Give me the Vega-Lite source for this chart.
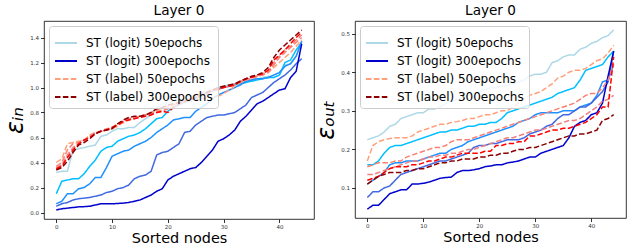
{
"$schema":"https://vega.github.io/schema/vega-lite/v6.json",
"padding":{"left":3,"top":4,"right":5,"bottom":5},
"spacing":41,
"bounds":"flush",
"datasets":{
"din":[
{"s":"g50","x":0,"y":0.32},{"s":"g50","x":1,"y":0.33},{"s":"g50","x":2,"y":0.33},{"s":"g50","x":3,"y":0.50},{"s":"g50","x":4,"y":0.51},{"s":"g50","x":5,"y":0.52},{"s":"g50","x":6,"y":0.53},{"s":"g50","x":7,"y":0.54},{"s":"g50","x":8,"y":0.61},{"s":"g50","x":9,"y":0.62},{"s":"g50","x":10,"y":0.65},{"s":"g50","x":11,"y":0.67},{"s":"g50","x":12,"y":0.67},{"s":"g50","x":13,"y":0.68},{"s":"g50","x":14,"y":0.68},{"s":"g50","x":15,"y":0.72},{"s":"g50","x":16,"y":0.75},{"s":"g50","x":17,"y":0.78},{"s":"g50","x":18,"y":0.84},{"s":"g50","x":19,"y":0.87},{"s":"g50","x":20,"y":0.88},{"s":"g50","x":21,"y":0.89},{"s":"g50","x":22,"y":0.90},{"s":"g50","x":23,"y":0.91},{"s":"g50","x":24,"y":0.93},{"s":"g50","x":25,"y":0.94},{"s":"g50","x":26,"y":0.96},{"s":"g50","x":27,"y":0.97},{"s":"g50","x":28,"y":0.98},{"s":"g50","x":29,"y":1.00},{"s":"g50","x":30,"y":1.01},{"s":"g50","x":31,"y":1.02},{"s":"g50","x":32,"y":1.03},{"s":"g50","x":33,"y":1.04},{"s":"g50","x":34,"y":1.05},{"s":"g50","x":35,"y":1.06},{"s":"g50","x":36,"y":1.07},{"s":"g50","x":37,"y":1.08},{"s":"g50","x":38,"y":1.09},{"s":"g50","x":39,"y":1.08},{"s":"g50","x":40,"y":1.10},{"s":"g50","x":41,"y":1.18},{"s":"g50","x":42,"y":1.19},{"s":"g50","x":43,"y":1.25},{"s":"g50","x":44,"y":1.37},
{"s":"g100","x":0,"y":0.15},{"s":"g100","x":1,"y":0.25},{"s":"g100","x":2,"y":0.26},{"s":"g100","x":3,"y":0.27},{"s":"g100","x":4,"y":0.27},{"s":"g100","x":5,"y":0.31},{"s":"g100","x":6,"y":0.37},{"s":"g100","x":7,"y":0.42},{"s":"g100","x":8,"y":0.49},{"s":"g100","x":9,"y":0.52},{"s":"g100","x":10,"y":0.53},{"s":"g100","x":11,"y":0.57},{"s":"g100","x":12,"y":0.59},{"s":"g100","x":13,"y":0.61},{"s":"g100","x":14,"y":0.62},{"s":"g100","x":15,"y":0.64},{"s":"g100","x":16,"y":0.67},{"s":"g100","x":17,"y":0.71},{"s":"g100","x":18,"y":0.75},{"s":"g100","x":19,"y":0.76},{"s":"g100","x":20,"y":0.81},{"s":"g100","x":21,"y":0.84},{"s":"g100","x":22,"y":0.86},{"s":"g100","x":23,"y":0.88},{"s":"g100","x":24,"y":0.90},{"s":"g100","x":25,"y":0.91},{"s":"g100","x":26,"y":0.93},{"s":"g100","x":27,"y":0.95},{"s":"g100","x":28,"y":0.97},{"s":"g100","x":29,"y":0.99},{"s":"g100","x":30,"y":1.00},{"s":"g100","x":31,"y":1.01},{"s":"g100","x":32,"y":1.02},{"s":"g100","x":33,"y":1.03},{"s":"g100","x":34,"y":1.04},{"s":"g100","x":35,"y":1.05},{"s":"g100","x":36,"y":1.06},{"s":"g100","x":37,"y":1.07},{"s":"g100","x":38,"y":1.08},{"s":"g100","x":39,"y":1.08},{"s":"g100","x":40,"y":1.10},{"s":"g100","x":41,"y":1.20},{"s":"g100","x":42,"y":1.22},{"s":"g100","x":43,"y":1.30},{"s":"g100","x":44,"y":1.36},
{"s":"g150","x":0,"y":0.07},{"s":"g150","x":1,"y":0.09},{"s":"g150","x":2,"y":0.15},{"s":"g150","x":3,"y":0.15},{"s":"g150","x":4,"y":0.19},{"s":"g150","x":5,"y":0.20},{"s":"g150","x":6,"y":0.23},{"s":"g150","x":7,"y":0.28},{"s":"g150","x":8,"y":0.28},{"s":"g150","x":9,"y":0.36},{"s":"g150","x":10,"y":0.45},{"s":"g150","x":11,"y":0.47},{"s":"g150","x":12,"y":0.49},{"s":"g150","x":13,"y":0.50},{"s":"g150","x":14,"y":0.53},{"s":"g150","x":15,"y":0.55},{"s":"g150","x":16,"y":0.57},{"s":"g150","x":17,"y":0.60},{"s":"g150","x":18,"y":0.64},{"s":"g150","x":19,"y":0.67},{"s":"g150","x":20,"y":0.70},{"s":"g150","x":21,"y":0.74},{"s":"g150","x":22,"y":0.75},{"s":"g150","x":23,"y":0.76},{"s":"g150","x":24,"y":0.76},{"s":"g150","x":25,"y":0.81},{"s":"g150","x":26,"y":0.84},{"s":"g150","x":27,"y":0.87},{"s":"g150","x":28,"y":0.91},{"s":"g150","x":29,"y":0.94},{"s":"g150","x":30,"y":0.96},{"s":"g150","x":31,"y":0.98},{"s":"g150","x":32,"y":1.00},{"s":"g150","x":33,"y":1.02},{"s":"g150","x":34,"y":1.05},{"s":"g150","x":35,"y":1.06},{"s":"g150","x":36,"y":1.07},{"s":"g150","x":37,"y":1.07},{"s":"g150","x":38,"y":1.08},{"s":"g150","x":39,"y":1.10},{"s":"g150","x":40,"y":1.12},{"s":"g150","x":41,"y":1.17},{"s":"g150","x":42,"y":1.19},{"s":"g150","x":43,"y":1.25},{"s":"g150","x":44,"y":1.37},
{"s":"g200","x":0,"y":0.05},{"s":"g200","x":1,"y":0.07},{"s":"g200","x":2,"y":0.08},{"s":"g200","x":3,"y":0.10},{"s":"g200","x":4,"y":0.11},{"s":"g200","x":5,"y":0.115},{"s":"g200","x":6,"y":0.12},{"s":"g200","x":7,"y":0.13},{"s":"g200","x":8,"y":0.14},{"s":"g200","x":9,"y":0.16},{"s":"g200","x":10,"y":0.17},{"s":"g200","x":11,"y":0.19},{"s":"g200","x":12,"y":0.20},{"s":"g200","x":13,"y":0.22},{"s":"g200","x":14,"y":0.27},{"s":"g200","x":15,"y":0.29},{"s":"g200","x":16,"y":0.30},{"s":"g200","x":17,"y":0.33},{"s":"g200","x":18,"y":0.46},{"s":"g200","x":19,"y":0.48},{"s":"g200","x":20,"y":0.49},{"s":"g200","x":21,"y":0.52},{"s":"g200","x":22,"y":0.55},{"s":"g200","x":23,"y":0.64},{"s":"g200","x":24,"y":0.65},{"s":"g200","x":25,"y":0.70},{"s":"g200","x":26,"y":0.73},{"s":"g200","x":27,"y":0.76},{"s":"g200","x":28,"y":0.77},{"s":"g200","x":29,"y":0.78},{"s":"g200","x":30,"y":0.78},{"s":"g200","x":31,"y":0.79},{"s":"g200","x":32,"y":0.80},{"s":"g200","x":33,"y":0.83},{"s":"g200","x":34,"y":0.86},{"s":"g200","x":35,"y":0.92},{"s":"g200","x":36,"y":0.94},{"s":"g200","x":37,"y":0.96},{"s":"g200","x":38,"y":1.00},{"s":"g200","x":39,"y":1.04},{"s":"g200","x":40,"y":1.07},{"s":"g200","x":41,"y":1.10},{"s":"g200","x":42,"y":1.14},{"s":"g200","x":43,"y":1.19},{"s":"g200","x":44,"y":1.23},
{"s":"g300","x":0,"y":0.02},{"s":"g300","x":1,"y":0.03},{"s":"g300","x":2,"y":0.035},{"s":"g300","x":3,"y":0.04},{"s":"g300","x":4,"y":0.045},{"s":"g300","x":5,"y":0.047},{"s":"g300","x":6,"y":0.05},{"s":"g300","x":7,"y":0.06},{"s":"g300","x":8,"y":0.07},{"s":"g300","x":9,"y":0.07},{"s":"g300","x":10,"y":0.07},{"s":"g300","x":11,"y":0.072},{"s":"g300","x":12,"y":0.075},{"s":"g300","x":13,"y":0.08},{"s":"g300","x":14,"y":0.09},{"s":"g300","x":15,"y":0.10},{"s":"g300","x":16,"y":0.12},{"s":"g300","x":17,"y":0.14},{"s":"g300","x":18,"y":0.17},{"s":"g300","x":19,"y":0.19},{"s":"g300","x":20,"y":0.26},{"s":"g300","x":21,"y":0.29},{"s":"g300","x":22,"y":0.31},{"s":"g300","x":23,"y":0.33},{"s":"g300","x":24,"y":0.35},{"s":"g300","x":25,"y":0.36},{"s":"g300","x":26,"y":0.40},{"s":"g300","x":27,"y":0.45},{"s":"g300","x":28,"y":0.50},{"s":"g300","x":29,"y":0.57},{"s":"g300","x":30,"y":0.59},{"s":"g300","x":31,"y":0.62},{"s":"g300","x":32,"y":0.66},{"s":"g300","x":33,"y":0.73},{"s":"g300","x":34,"y":0.77},{"s":"g300","x":35,"y":0.82},{"s":"g300","x":36,"y":0.87},{"s":"g300","x":37,"y":0.89},{"s":"g300","x":38,"y":0.92},{"s":"g300","x":39,"y":0.95},{"s":"g300","x":40,"y":0.98},{"s":"g300","x":41,"y":0.99},{"s":"g300","x":42,"y":1.08},{"s":"g300","x":43,"y":1.13},{"s":"g300","x":44,"y":1.35},
{"s":"b50","x":0,"y":0.40},{"s":"b50","x":1,"y":0.43},{"s":"b50","x":2,"y":0.55},{"s":"b50","x":3,"y":0.56},{"s":"b50","x":4,"y":0.57},{"s":"b50","x":5,"y":0.58},{"s":"b50","x":6,"y":0.62},{"s":"b50","x":7,"y":0.64},{"s":"b50","x":8,"y":0.65},{"s":"b50","x":9,"y":0.66},{"s":"b50","x":10,"y":0.67},{"s":"b50","x":11,"y":0.69},{"s":"b50","x":12,"y":0.72},{"s":"b50","x":13,"y":0.74},{"s":"b50","x":14,"y":0.76},{"s":"b50","x":15,"y":0.77},{"s":"b50","x":16,"y":0.78},{"s":"b50","x":17,"y":0.79},{"s":"b50","x":18,"y":0.81},{"s":"b50","x":19,"y":0.82},{"s":"b50","x":20,"y":0.84},{"s":"b50","x":21,"y":0.85},{"s":"b50","x":22,"y":0.87},{"s":"b50","x":23,"y":0.88},{"s":"b50","x":24,"y":0.89},{"s":"b50","x":25,"y":0.90},{"s":"b50","x":26,"y":0.91},{"s":"b50","x":27,"y":0.92},{"s":"b50","x":28,"y":0.92},{"s":"b50","x":29,"y":0.93},{"s":"b50","x":30,"y":0.95},{"s":"b50","x":31,"y":0.98},{"s":"b50","x":32,"y":1.01},{"s":"b50","x":33,"y":1.04},{"s":"b50","x":34,"y":1.06},{"s":"b50","x":35,"y":1.08},{"s":"b50","x":36,"y":1.09},{"s":"b50","x":37,"y":1.10},{"s":"b50","x":38,"y":1.12},{"s":"b50","x":39,"y":1.16},{"s":"b50","x":40,"y":1.20},{"s":"b50","x":41,"y":1.24},{"s":"b50","x":42,"y":1.28},{"s":"b50","x":43,"y":1.33},{"s":"b50","x":44,"y":1.38},
{"s":"b100","x":0,"y":0.37},{"s":"b100","x":1,"y":0.40},{"s":"b100","x":2,"y":0.50},{"s":"b100","x":3,"y":0.55},{"s":"b100","x":4,"y":0.56},{"s":"b100","x":5,"y":0.58},{"s":"b100","x":6,"y":0.61},{"s":"b100","x":7,"y":0.63},{"s":"b100","x":8,"y":0.65},{"s":"b100","x":9,"y":0.66},{"s":"b100","x":10,"y":0.68},{"s":"b100","x":11,"y":0.70},{"s":"b100","x":12,"y":0.72},{"s":"b100","x":13,"y":0.75},{"s":"b100","x":14,"y":0.76},{"s":"b100","x":15,"y":0.77},{"s":"b100","x":16,"y":0.78},{"s":"b100","x":17,"y":0.80},{"s":"b100","x":18,"y":0.82},{"s":"b100","x":19,"y":0.84},{"s":"b100","x":20,"y":0.85},{"s":"b100","x":21,"y":0.86},{"s":"b100","x":22,"y":0.88},{"s":"b100","x":23,"y":0.89},{"s":"b100","x":24,"y":0.90},{"s":"b100","x":25,"y":0.92},{"s":"b100","x":26,"y":0.94},{"s":"b100","x":27,"y":0.95},{"s":"b100","x":28,"y":0.97},{"s":"b100","x":29,"y":0.98},{"s":"b100","x":30,"y":1.00},{"s":"b100","x":31,"y":1.01},{"s":"b100","x":32,"y":1.02},{"s":"b100","x":33,"y":1.04},{"s":"b100","x":34,"y":1.06},{"s":"b100","x":35,"y":1.07},{"s":"b100","x":36,"y":1.09},{"s":"b100","x":37,"y":1.10},{"s":"b100","x":38,"y":1.12},{"s":"b100","x":39,"y":1.18},{"s":"b100","x":40,"y":1.24},{"s":"b100","x":41,"y":1.28},{"s":"b100","x":42,"y":1.32},{"s":"b100","x":43,"y":1.36},{"s":"b100","x":44,"y":1.40},
{"s":"b150","x":0,"y":0.36},{"s":"b150","x":1,"y":0.38},{"s":"b150","x":2,"y":0.46},{"s":"b150","x":3,"y":0.52},{"s":"b150","x":4,"y":0.55},{"s":"b150","x":5,"y":0.57},{"s":"b150","x":6,"y":0.61},{"s":"b150","x":7,"y":0.64},{"s":"b150","x":8,"y":0.65},{"s":"b150","x":9,"y":0.67},{"s":"b150","x":10,"y":0.68},{"s":"b150","x":11,"y":0.71},{"s":"b150","x":12,"y":0.73},{"s":"b150","x":13,"y":0.75},{"s":"b150","x":14,"y":0.76},{"s":"b150","x":15,"y":0.77},{"s":"b150","x":16,"y":0.78},{"s":"b150","x":17,"y":0.79},{"s":"b150","x":18,"y":0.80},{"s":"b150","x":19,"y":0.81},{"s":"b150","x":20,"y":0.83},{"s":"b150","x":21,"y":0.86},{"s":"b150","x":22,"y":0.88},{"s":"b150","x":23,"y":0.89},{"s":"b150","x":24,"y":0.91},{"s":"b150","x":25,"y":0.93},{"s":"b150","x":26,"y":0.95},{"s":"b150","x":27,"y":0.96},{"s":"b150","x":28,"y":0.97},{"s":"b150","x":29,"y":0.99},{"s":"b150","x":30,"y":1.00},{"s":"b150","x":31,"y":1.01},{"s":"b150","x":32,"y":1.03},{"s":"b150","x":33,"y":1.05},{"s":"b150","x":34,"y":1.06},{"s":"b150","x":35,"y":1.08},{"s":"b150","x":36,"y":1.09},{"s":"b150","x":37,"y":1.11},{"s":"b150","x":38,"y":1.13},{"s":"b150","x":39,"y":1.20},{"s":"b150","x":40,"y":1.25},{"s":"b150","x":41,"y":1.30},{"s":"b150","x":42,"y":1.33},{"s":"b150","x":43,"y":1.38},{"s":"b150","x":44,"y":1.42},
{"s":"b200","x":0,"y":0.35},{"s":"b200","x":1,"y":0.37},{"s":"b200","x":2,"y":0.44},{"s":"b200","x":3,"y":0.50},{"s":"b200","x":4,"y":0.55},{"s":"b200","x":5,"y":0.58},{"s":"b200","x":6,"y":0.60},{"s":"b200","x":7,"y":0.63},{"s":"b200","x":8,"y":0.65},{"s":"b200","x":9,"y":0.66},{"s":"b200","x":10,"y":0.68},{"s":"b200","x":11,"y":0.70},{"s":"b200","x":12,"y":0.73},{"s":"b200","x":13,"y":0.74},{"s":"b200","x":14,"y":0.75},{"s":"b200","x":15,"y":0.76},{"s":"b200","x":16,"y":0.77},{"s":"b200","x":17,"y":0.78},{"s":"b200","x":18,"y":0.80},{"s":"b200","x":19,"y":0.81},{"s":"b200","x":20,"y":0.80},{"s":"b200","x":21,"y":0.84},{"s":"b200","x":22,"y":0.87},{"s":"b200","x":23,"y":0.89},{"s":"b200","x":24,"y":0.91},{"s":"b200","x":25,"y":0.92},{"s":"b200","x":26,"y":0.94},{"s":"b200","x":27,"y":0.96},{"s":"b200","x":28,"y":0.98},{"s":"b200","x":29,"y":0.99},{"s":"b200","x":30,"y":1.00},{"s":"b200","x":31,"y":1.01},{"s":"b200","x":32,"y":1.02},{"s":"b200","x":33,"y":1.05},{"s":"b200","x":34,"y":1.07},{"s":"b200","x":35,"y":1.08},{"s":"b200","x":36,"y":1.10},{"s":"b200","x":37,"y":1.11},{"s":"b200","x":38,"y":1.14},{"s":"b200","x":39,"y":1.22},{"s":"b200","x":40,"y":1.26},{"s":"b200","x":41,"y":1.30},{"s":"b200","x":42,"y":1.35},{"s":"b200","x":43,"y":1.40},{"s":"b200","x":44,"y":1.44},
{"s":"b300","x":0,"y":0.34},{"s":"b300","x":1,"y":0.36},{"s":"b300","x":2,"y":0.41},{"s":"b300","x":3,"y":0.48},{"s":"b300","x":4,"y":0.54},{"s":"b300","x":5,"y":0.56},{"s":"b300","x":6,"y":0.59},{"s":"b300","x":7,"y":0.63},{"s":"b300","x":8,"y":0.65},{"s":"b300","x":9,"y":0.66},{"s":"b300","x":10,"y":0.67},{"s":"b300","x":11,"y":0.71},{"s":"b300","x":12,"y":0.74},{"s":"b300","x":13,"y":0.76},{"s":"b300","x":14,"y":0.77},{"s":"b300","x":15,"y":0.77},{"s":"b300","x":16,"y":0.78},{"s":"b300","x":17,"y":0.80},{"s":"b300","x":18,"y":0.83},{"s":"b300","x":19,"y":0.84},{"s":"b300","x":20,"y":0.86},{"s":"b300","x":21,"y":0.87},{"s":"b300","x":22,"y":0.88},{"s":"b300","x":23,"y":0.89},{"s":"b300","x":24,"y":0.90},{"s":"b300","x":25,"y":0.92},{"s":"b300","x":26,"y":0.94},{"s":"b300","x":27,"y":0.96},{"s":"b300","x":28,"y":0.98},{"s":"b300","x":29,"y":1.00},{"s":"b300","x":30,"y":1.01},{"s":"b300","x":31,"y":1.02},{"s":"b300","x":32,"y":1.03},{"s":"b300","x":33,"y":1.05},{"s":"b300","x":34,"y":1.07},{"s":"b300","x":35,"y":1.09},{"s":"b300","x":36,"y":1.10},{"s":"b300","x":37,"y":1.12},{"s":"b300","x":38,"y":1.16},{"s":"b300","x":39,"y":1.24},{"s":"b300","x":40,"y":1.30},{"s":"b300","x":41,"y":1.34},{"s":"b300","x":42,"y":1.38},{"s":"b300","x":43,"y":1.42},{"s":"b300","x":44,"y":1.46}
],
"dout":[
{"s":"g50","x":0,"y":0.225},{"s":"g50","x":1,"y":0.23},{"s":"g50","x":2,"y":0.235},{"s":"g50","x":3,"y":0.245},{"s":"g50","x":4,"y":0.26},{"s":"g50","x":5,"y":0.265},{"s":"g50","x":6,"y":0.28},{"s":"g50","x":7,"y":0.285},{"s":"g50","x":8,"y":0.29},{"s":"g50","x":9,"y":0.295},{"s":"g50","x":10,"y":0.295},{"s":"g50","x":11,"y":0.305},{"s":"g50","x":12,"y":0.305},{"s":"g50","x":13,"y":0.31},{"s":"g50","x":14,"y":0.32},{"s":"g50","x":15,"y":0.325},{"s":"g50","x":16,"y":0.33},{"s":"g50","x":17,"y":0.335},{"s":"g50","x":18,"y":0.34},{"s":"g50","x":19,"y":0.345},{"s":"g50","x":20,"y":0.35},{"s":"g50","x":21,"y":0.355},{"s":"g50","x":22,"y":0.36},{"s":"g50","x":23,"y":0.36},{"s":"g50","x":24,"y":0.365},{"s":"g50","x":25,"y":0.365},{"s":"g50","x":26,"y":0.37},{"s":"g50","x":27,"y":0.375},{"s":"g50","x":28,"y":0.38},{"s":"g50","x":29,"y":0.39},{"s":"g50","x":30,"y":0.395},{"s":"g50","x":31,"y":0.395},{"s":"g50","x":32,"y":0.40},{"s":"g50","x":33,"y":0.425},{"s":"g50","x":34,"y":0.43},{"s":"g50","x":35,"y":0.44},{"s":"g50","x":36,"y":0.445},{"s":"g50","x":37,"y":0.445},{"s":"g50","x":38,"y":0.46},{"s":"g50","x":39,"y":0.465},{"s":"g50","x":40,"y":0.475},{"s":"g50","x":41,"y":0.48},{"s":"g50","x":42,"y":0.49},{"s":"g50","x":43,"y":0.495},{"s":"g50","x":44,"y":0.51},
{"s":"g100","x":0,"y":0.16},{"s":"g100","x":1,"y":0.16},{"s":"g100","x":2,"y":0.17},{"s":"g100","x":3,"y":0.19},{"s":"g100","x":4,"y":0.205},{"s":"g100","x":5,"y":0.21},{"s":"g100","x":6,"y":0.21},{"s":"g100","x":7,"y":0.215},{"s":"g100","x":8,"y":0.22},{"s":"g100","x":9,"y":0.225},{"s":"g100","x":10,"y":0.23},{"s":"g100","x":11,"y":0.235},{"s":"g100","x":12,"y":0.24},{"s":"g100","x":13,"y":0.245},{"s":"g100","x":14,"y":0.245},{"s":"g100","x":15,"y":0.25},{"s":"g100","x":16,"y":0.25},{"s":"g100","x":17,"y":0.255},{"s":"g100","x":18,"y":0.26},{"s":"g100","x":19,"y":0.26},{"s":"g100","x":20,"y":0.265},{"s":"g100","x":21,"y":0.265},{"s":"g100","x":22,"y":0.27},{"s":"g100","x":23,"y":0.27},{"s":"g100","x":24,"y":0.28},{"s":"g100","x":25,"y":0.295},{"s":"g100","x":26,"y":0.30},{"s":"g100","x":27,"y":0.305},{"s":"g100","x":28,"y":0.31},{"s":"g100","x":29,"y":0.315},{"s":"g100","x":30,"y":0.32},{"s":"g100","x":31,"y":0.325},{"s":"g100","x":32,"y":0.33},{"s":"g100","x":33,"y":0.335},{"s":"g100","x":34,"y":0.345},{"s":"g100","x":35,"y":0.35},{"s":"g100","x":36,"y":0.355},{"s":"g100","x":37,"y":0.36},{"s":"g100","x":38,"y":0.38},{"s":"g100","x":39,"y":0.405},{"s":"g100","x":40,"y":0.41},{"s":"g100","x":41,"y":0.415},{"s":"g100","x":42,"y":0.42},{"s":"g100","x":43,"y":0.44},{"s":"g100","x":44,"y":0.455},
{"s":"g150","x":0,"y":0.11},{"s":"g150","x":1,"y":0.12},{"s":"g150","x":2,"y":0.13},{"s":"g150","x":3,"y":0.14},{"s":"g150","x":4,"y":0.16},{"s":"g150","x":5,"y":0.165},{"s":"g150","x":6,"y":0.165},{"s":"g150","x":7,"y":0.17},{"s":"g150","x":8,"y":0.17},{"s":"g150","x":9,"y":0.17},{"s":"g150","x":10,"y":0.175},{"s":"g150","x":11,"y":0.18},{"s":"g150","x":12,"y":0.185},{"s":"g150","x":13,"y":0.19},{"s":"g150","x":14,"y":0.19},{"s":"g150","x":15,"y":0.20},{"s":"g150","x":16,"y":0.205},{"s":"g150","x":17,"y":0.21},{"s":"g150","x":18,"y":0.22},{"s":"g150","x":19,"y":0.225},{"s":"g150","x":20,"y":0.23},{"s":"g150","x":21,"y":0.235},{"s":"g150","x":22,"y":0.24},{"s":"g150","x":23,"y":0.245},{"s":"g150","x":24,"y":0.25},{"s":"g150","x":25,"y":0.255},{"s":"g150","x":26,"y":0.26},{"s":"g150","x":27,"y":0.27},{"s":"g150","x":28,"y":0.275},{"s":"g150","x":29,"y":0.28},{"s":"g150","x":30,"y":0.29},{"s":"g150","x":31,"y":0.295},{"s":"g150","x":32,"y":0.295},{"s":"g150","x":33,"y":0.295},{"s":"g150","x":34,"y":0.295},{"s":"g150","x":35,"y":0.30},{"s":"g150","x":36,"y":0.30},{"s":"g150","x":37,"y":0.30},{"s":"g150","x":38,"y":0.31},{"s":"g150","x":39,"y":0.315},{"s":"g150","x":40,"y":0.32},{"s":"g150","x":41,"y":0.34},{"s":"g150","x":42,"y":0.375},{"s":"g150","x":43,"y":0.38},{"s":"g150","x":44,"y":0.42},
{"s":"g200","x":0,"y":0.075},{"s":"g200","x":1,"y":0.09},{"s":"g200","x":2,"y":0.09},{"s":"g200","x":3,"y":0.10},{"s":"g200","x":4,"y":0.105},{"s":"g200","x":5,"y":0.12},{"s":"g200","x":6,"y":0.135},{"s":"g200","x":7,"y":0.14},{"s":"g200","x":8,"y":0.145},{"s":"g200","x":9,"y":0.15},{"s":"g200","x":10,"y":0.155},{"s":"g200","x":11,"y":0.16},{"s":"g200","x":12,"y":0.165},{"s":"g200","x":13,"y":0.17},{"s":"g200","x":14,"y":0.17},{"s":"g200","x":15,"y":0.175},{"s":"g200","x":16,"y":0.18},{"s":"g200","x":17,"y":0.185},{"s":"g200","x":18,"y":0.19},{"s":"g200","x":19,"y":0.205},{"s":"g200","x":20,"y":0.21},{"s":"g200","x":21,"y":0.21},{"s":"g200","x":22,"y":0.215},{"s":"g200","x":23,"y":0.215},{"s":"g200","x":24,"y":0.22},{"s":"g200","x":25,"y":0.225},{"s":"g200","x":26,"y":0.225},{"s":"g200","x":27,"y":0.225},{"s":"g200","x":28,"y":0.23},{"s":"g200","x":29,"y":0.24},{"s":"g200","x":30,"y":0.245},{"s":"g200","x":31,"y":0.25},{"s":"g200","x":32,"y":0.26},{"s":"g200","x":33,"y":0.265},{"s":"g200","x":34,"y":0.28},{"s":"g200","x":35,"y":0.29},{"s":"g200","x":36,"y":0.29},{"s":"g200","x":37,"y":0.30},{"s":"g200","x":38,"y":0.31},{"s":"g200","x":39,"y":0.31},{"s":"g200","x":40,"y":0.32},{"s":"g200","x":41,"y":0.335},{"s":"g200","x":42,"y":0.35},{"s":"g200","x":43,"y":0.375},{"s":"g200","x":44,"y":0.455},
{"s":"g300","x":0,"y":0.045},{"s":"g300","x":1,"y":0.055},{"s":"g300","x":2,"y":0.055},{"s":"g300","x":3,"y":0.07},{"s":"g300","x":4,"y":0.085},{"s":"g300","x":5,"y":0.09},{"s":"g300","x":6,"y":0.095},{"s":"g300","x":7,"y":0.095},{"s":"g300","x":8,"y":0.11},{"s":"g300","x":9,"y":0.11},{"s":"g300","x":10,"y":0.112},{"s":"g300","x":11,"y":0.115},{"s":"g300","x":12,"y":0.12},{"s":"g300","x":13,"y":0.125},{"s":"g300","x":14,"y":0.127},{"s":"g300","x":15,"y":0.128},{"s":"g300","x":16,"y":0.14},{"s":"g300","x":17,"y":0.145},{"s":"g300","x":18,"y":0.145},{"s":"g300","x":19,"y":0.147},{"s":"g300","x":20,"y":0.15},{"s":"g300","x":21,"y":0.155},{"s":"g300","x":22,"y":0.157},{"s":"g300","x":23,"y":0.16},{"s":"g300","x":24,"y":0.16},{"s":"g300","x":25,"y":0.165},{"s":"g300","x":26,"y":0.167},{"s":"g300","x":27,"y":0.17},{"s":"g300","x":28,"y":0.175},{"s":"g300","x":29,"y":0.18},{"s":"g300","x":30,"y":0.18},{"s":"g300","x":31,"y":0.19},{"s":"g300","x":32,"y":0.195},{"s":"g300","x":33,"y":0.20},{"s":"g300","x":34,"y":0.205},{"s":"g300","x":35,"y":0.21},{"s":"g300","x":36,"y":0.23},{"s":"g300","x":37,"y":0.26},{"s":"g300","x":38,"y":0.27},{"s":"g300","x":39,"y":0.275},{"s":"g300","x":40,"y":0.29},{"s":"g300","x":41,"y":0.295},{"s":"g300","x":42,"y":0.32},{"s":"g300","x":43,"y":0.39},{"s":"g300","x":44,"y":0.455},
{"s":"b50","x":0,"y":0.17},{"s":"b50","x":1,"y":0.21},{"s":"b50","x":2,"y":0.22},{"s":"b50","x":3,"y":0.225},{"s":"b50","x":4,"y":0.228},{"s":"b50","x":5,"y":0.23},{"s":"b50","x":6,"y":0.23},{"s":"b50","x":7,"y":0.23},{"s":"b50","x":8,"y":0.235},{"s":"b50","x":9,"y":0.245},{"s":"b50","x":10,"y":0.25},{"s":"b50","x":11,"y":0.255},{"s":"b50","x":12,"y":0.26},{"s":"b50","x":13,"y":0.265},{"s":"b50","x":14,"y":0.265},{"s":"b50","x":15,"y":0.27},{"s":"b50","x":16,"y":0.272},{"s":"b50","x":17,"y":0.275},{"s":"b50","x":18,"y":0.28},{"s":"b50","x":19,"y":0.28},{"s":"b50","x":20,"y":0.285},{"s":"b50","x":21,"y":0.29},{"s":"b50","x":22,"y":0.29},{"s":"b50","x":23,"y":0.295},{"s":"b50","x":24,"y":0.30},{"s":"b50","x":25,"y":0.30},{"s":"b50","x":26,"y":0.31},{"s":"b50","x":27,"y":0.32},{"s":"b50","x":28,"y":0.33},{"s":"b50","x":29,"y":0.34},{"s":"b50","x":30,"y":0.345},{"s":"b50","x":31,"y":0.35},{"s":"b50","x":32,"y":0.36},{"s":"b50","x":33,"y":0.37},{"s":"b50","x":34,"y":0.385},{"s":"b50","x":35,"y":0.39},{"s":"b50","x":36,"y":0.40},{"s":"b50","x":37,"y":0.405},{"s":"b50","x":38,"y":0.405},{"s":"b50","x":39,"y":0.41},{"s":"b50","x":40,"y":0.42},{"s":"b50","x":41,"y":0.43},{"s":"b50","x":42,"y":0.435},{"s":"b50","x":43,"y":0.45},{"s":"b50","x":44,"y":0.47},
{"s":"b100","x":0,"y":0.155},{"s":"b100","x":1,"y":0.16},{"s":"b100","x":2,"y":0.165},{"s":"b100","x":3,"y":0.165},{"s":"b100","x":4,"y":0.165},{"s":"b100","x":5,"y":0.17},{"s":"b100","x":6,"y":0.17},{"s":"b100","x":7,"y":0.18},{"s":"b100","x":8,"y":0.185},{"s":"b100","x":9,"y":0.19},{"s":"b100","x":10,"y":0.195},{"s":"b100","x":11,"y":0.2},{"s":"b100","x":12,"y":0.205},{"s":"b100","x":13,"y":0.205},{"s":"b100","x":14,"y":0.21},{"s":"b100","x":15,"y":0.22},{"s":"b100","x":16,"y":0.225},{"s":"b100","x":17,"y":0.225},{"s":"b100","x":18,"y":0.225},{"s":"b100","x":19,"y":0.23},{"s":"b100","x":20,"y":0.235},{"s":"b100","x":21,"y":0.24},{"s":"b100","x":22,"y":0.245},{"s":"b100","x":23,"y":0.25},{"s":"b100","x":24,"y":0.255},{"s":"b100","x":25,"y":0.26},{"s":"b100","x":26,"y":0.265},{"s":"b100","x":27,"y":0.27},{"s":"b100","x":28,"y":0.275},{"s":"b100","x":29,"y":0.28},{"s":"b100","x":30,"y":0.285},{"s":"b100","x":31,"y":0.29},{"s":"b100","x":32,"y":0.295},{"s":"b100","x":33,"y":0.30},{"s":"b100","x":34,"y":0.305},{"s":"b100","x":35,"y":0.31},{"s":"b100","x":36,"y":0.315},{"s":"b100","x":37,"y":0.32},{"s":"b100","x":38,"y":0.33},{"s":"b100","x":39,"y":0.34},{"s":"b100","x":40,"y":0.345},{"s":"b100","x":41,"y":0.345},{"s":"b100","x":42,"y":0.36},{"s":"b100","x":43,"y":0.38},{"s":"b100","x":44,"y":0.42},
{"s":"b150","x":0,"y":0.135},{"s":"b150","x":1,"y":0.135},{"s":"b150","x":2,"y":0.14},{"s":"b150","x":3,"y":0.145},{"s":"b150","x":4,"y":0.15},{"s":"b150","x":5,"y":0.155},{"s":"b150","x":6,"y":0.16},{"s":"b150","x":7,"y":0.165},{"s":"b150","x":8,"y":0.17},{"s":"b150","x":9,"y":0.17},{"s":"b150","x":10,"y":0.175},{"s":"b150","x":11,"y":0.18},{"s":"b150","x":12,"y":0.18},{"s":"b150","x":13,"y":0.185},{"s":"b150","x":14,"y":0.185},{"s":"b150","x":15,"y":0.19},{"s":"b150","x":16,"y":0.19},{"s":"b150","x":17,"y":0.195},{"s":"b150","x":18,"y":0.2},{"s":"b150","x":19,"y":0.2},{"s":"b150","x":20,"y":0.205},{"s":"b150","x":21,"y":0.21},{"s":"b150","x":22,"y":0.215},{"s":"b150","x":23,"y":0.22},{"s":"b150","x":24,"y":0.225},{"s":"b150","x":25,"y":0.23},{"s":"b150","x":26,"y":0.23},{"s":"b150","x":27,"y":0.235},{"s":"b150","x":28,"y":0.24},{"s":"b150","x":29,"y":0.245},{"s":"b150","x":30,"y":0.25},{"s":"b150","x":31,"y":0.25},{"s":"b150","x":32,"y":0.255},{"s":"b150","x":33,"y":0.26},{"s":"b150","x":34,"y":0.265},{"s":"b150","x":35,"y":0.27},{"s":"b150","x":36,"y":0.275},{"s":"b150","x":37,"y":0.275},{"s":"b150","x":38,"y":0.28},{"s":"b150","x":39,"y":0.29},{"s":"b150","x":40,"y":0.30},{"s":"b150","x":41,"y":0.31},{"s":"b150","x":42,"y":0.325},{"s":"b150","x":43,"y":0.33},{"s":"b150","x":44,"y":0.34},
{"s":"b200","x":0,"y":0.12},{"s":"b200","x":1,"y":0.125},{"s":"b200","x":2,"y":0.13},{"s":"b200","x":3,"y":0.14},{"s":"b200","x":4,"y":0.15},{"s":"b200","x":5,"y":0.155},{"s":"b200","x":6,"y":0.155},{"s":"b200","x":7,"y":0.155},{"s":"b200","x":8,"y":0.16},{"s":"b200","x":9,"y":0.16},{"s":"b200","x":10,"y":0.165},{"s":"b200","x":11,"y":0.17},{"s":"b200","x":12,"y":0.17},{"s":"b200","x":13,"y":0.175},{"s":"b200","x":14,"y":0.18},{"s":"b200","x":15,"y":0.18},{"s":"b200","x":16,"y":0.185},{"s":"b200","x":17,"y":0.19},{"s":"b200","x":18,"y":0.19},{"s":"b200","x":19,"y":0.19},{"s":"b200","x":20,"y":0.19},{"s":"b200","x":21,"y":0.195},{"s":"b200","x":22,"y":0.195},{"s":"b200","x":23,"y":0.21},{"s":"b200","x":24,"y":0.21},{"s":"b200","x":25,"y":0.215},{"s":"b200","x":26,"y":0.215},{"s":"b200","x":27,"y":0.22},{"s":"b200","x":28,"y":0.22},{"s":"b200","x":29,"y":0.235},{"s":"b200","x":30,"y":0.235},{"s":"b200","x":31,"y":0.24},{"s":"b200","x":32,"y":0.245},{"s":"b200","x":33,"y":0.25},{"s":"b200","x":34,"y":0.25},{"s":"b200","x":35,"y":0.255},{"s":"b200","x":36,"y":0.255},{"s":"b200","x":37,"y":0.26},{"s":"b200","x":38,"y":0.265},{"s":"b200","x":39,"y":0.27},{"s":"b200","x":40,"y":0.28},{"s":"b200","x":41,"y":0.29},{"s":"b200","x":42,"y":0.31},{"s":"b200","x":43,"y":0.31},{"s":"b200","x":44,"y":0.44},
{"s":"b300","x":0,"y":0.11},{"s":"b300","x":1,"y":0.12},{"s":"b300","x":2,"y":0.13},{"s":"b300","x":3,"y":0.135},{"s":"b300","x":4,"y":0.14},{"s":"b300","x":5,"y":0.14},{"s":"b300","x":6,"y":0.14},{"s":"b300","x":7,"y":0.145},{"s":"b300","x":8,"y":0.145},{"s":"b300","x":9,"y":0.15},{"s":"b300","x":10,"y":0.15},{"s":"b300","x":11,"y":0.155},{"s":"b300","x":12,"y":0.16},{"s":"b300","x":13,"y":0.165},{"s":"b300","x":14,"y":0.165},{"s":"b300","x":15,"y":0.17},{"s":"b300","x":16,"y":0.17},{"s":"b300","x":17,"y":0.175},{"s":"b300","x":18,"y":0.175},{"s":"b300","x":19,"y":0.175},{"s":"b300","x":20,"y":0.18},{"s":"b300","x":21,"y":0.18},{"s":"b300","x":22,"y":0.185},{"s":"b300","x":23,"y":0.185},{"s":"b300","x":24,"y":0.19},{"s":"b300","x":25,"y":0.19},{"s":"b300","x":26,"y":0.195},{"s":"b300","x":27,"y":0.2},{"s":"b300","x":28,"y":0.2},{"s":"b300","x":29,"y":0.205},{"s":"b300","x":30,"y":0.205},{"s":"b300","x":31,"y":0.21},{"s":"b300","x":32,"y":0.215},{"s":"b300","x":33,"y":0.22},{"s":"b300","x":34,"y":0.225},{"s":"b300","x":35,"y":0.23},{"s":"b300","x":36,"y":0.235},{"s":"b300","x":37,"y":0.235},{"s":"b300","x":38,"y":0.24},{"s":"b300","x":39,"y":0.24},{"s":"b300","x":40,"y":0.245},{"s":"b300","x":41,"y":0.25},{"s":"b300","x":42,"y":0.275},{"s":"b300","x":43,"y":0.28},{"s":"b300","x":44,"y":0.29}
]
},
"hconcat":[
{"width":270,"height":198,"title":"Layer 0","data":{"name":"din"},
 "mark":{"type":"line","strokeWidth":1.5},
 "encoding":{
  "x":{"field":"x","type":"quantitative","scale":{"domain":[-2.2,46.2],"nice":false,"zero":false},"axis":{"values":[0,10,20,30,40],"title":"Sorted nodes"}},
  "y":{"field":"y","type":"quantitative","scale":{"domain":[-0.052,1.532],"nice":false,"zero":false},"axis":{"values":[0,0.2,0.4,0.6,0.8,1.0,1.2,1.4],"format":".1f","title":"εᵢₙ"}},
  "color":{"field":"s","type":"nominal","scale":{"domain":["g50","g100","g150","g200","g300","b50","b100","b150","b200","b300"],"range":["#add8e6","#00bfff","#1e90ff","#4169e1","#0000cd","#ffa07a","#fa8072","#f08080","#ff0000","#8b0000"]},"legend":{"values":["g50","g300","b50","b300"],"title":null,"labelExpr":"datum.label=='g50'?'ST (logit) 50epochs':datum.label=='g300'?'ST (logit) 300epochs':datum.label=='b50'?'ST (label) 50epochs':'ST (label) 300epochs'"}},
  "strokeDash":{"field":"s","type":"nominal","scale":{"domain":["g50","g100","g150","g200","g300","b50","b100","b150","b200","b300"],"range":[[1,0],[1,0],[1,0],[1,0],[1,0],[5.5,2.4],[5.5,2.4],[5.5,2.4],[5.5,2.4],[5.5,2.4]]},"legend":{"values":["g50","g300","b50","b300"],"title":null,"labelExpr":"datum.label=='g50'?'ST (logit) 50epochs':datum.label=='g300'?'ST (logit) 300epochs':datum.label=='b50'?'ST (label) 50epochs':'ST (label) 300epochs'"}}
 }},
{"width":271,"height":197,"title":"Layer 0","data":{"name":"dout"},
 "mark":{"type":"line","strokeWidth":1.5},
 "encoding":{
  "x":{"field":"x","type":"quantitative","scale":{"domain":[-2.2,46.2],"nice":false,"zero":false},"axis":{"values":[0,10,20,30,40],"title":"Sorted nodes"}},
  "y":{"field":"y","type":"quantitative","scale":{"domain":[0.022,0.533],"nice":false,"zero":false},"axis":{"values":[0.1,0.2,0.3,0.4,0.5],"format":".1f","title":"εₒᵤₜ"}},
  "color":{"field":"s","type":"nominal","scale":{"domain":["g50","g100","g150","g200","g300","b50","b100","b150","b200","b300"],"range":["#add8e6","#00bfff","#1e90ff","#4169e1","#0000cd","#ffa07a","#fa8072","#f08080","#ff0000","#8b0000"]},"legend":{"values":["g50","g300","b50","b300"],"title":null,"labelExpr":"datum.label=='g50'?'ST (logit) 50epochs':datum.label=='g300'?'ST (logit) 300epochs':datum.label=='b50'?'ST (label) 50epochs':'ST (label) 300epochs'"}},
  "strokeDash":{"field":"s","type":"nominal","scale":{"domain":["g50","g100","g150","g200","g300","b50","b100","b150","b200","b300"],"range":[[1,0],[1,0],[1,0],[1,0],[1,0],[5.5,2.4],[5.5,2.4],[5.5,2.4],[5.5,2.4],[5.5,2.4]]},"legend":{"values":["g50","g300","b50","b300"],"title":null,"labelExpr":"datum.label=='g50'?'ST (logit) 50epochs':datum.label=='g300'?'ST (logit) 300epochs':datum.label=='b50'?'ST (label) 50epochs':'ST (label) 300epochs'"}}
 }}
],
"resolve":{"scale":{"color":"independent","strokeDash":"independent","y":"independent","x":"independent"},"legend":{"color":"independent","strokeDash":"independent"}},
"config":{
 "font":"DejaVu Sans",
 "view":{"stroke":"#000","strokeWidth":0.8},
 "axis":{"domain":false,"grid":false,"ticks":true,"tickColor":"#000","tickSize":3.5,"tickWidth":0.8,"labelFontSize":5.5,"labelColor":"#333","titleColor":"#000","labelPadding":2,"titleFontWeight":"normal"},
 "axisX":{"titleFontSize":14.4,"titlePadding":1},
 "axisY":{"titleFontSize":24,"titleFontStyle":"italic","titlePadding":2},
 "title":{"fontSize":13.6,"fontWeight":"normal","offset":3,"color":"#000","anchor":"middle"},
 "legend":{"orient":"top-left","offset":5,"fillColor":"rgba(255,255,255,0.8)","strokeColor":"#cccccc","cornerRadius":3,"padding":5,"labelFontSize":12,"labelColor":"#000","symbolType":"stroke","symbolSize":484,"symbolStrokeWidth":2,"rowPadding":-4,"labelOffset":8}
}
}
